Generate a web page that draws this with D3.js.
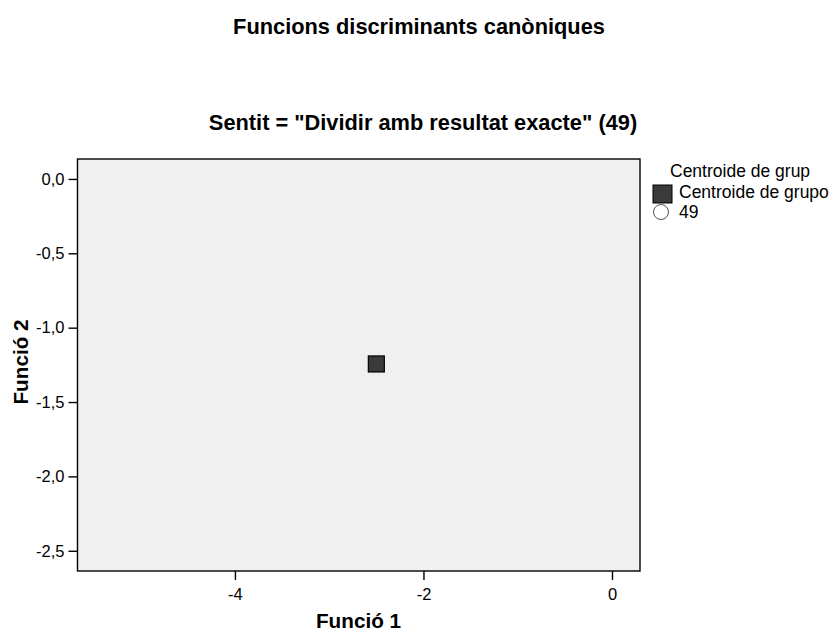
<!DOCTYPE html>
<html>
<head>
<meta charset="utf-8">
<script src="https://cdn.jsdelivr.net/npm/d3@7"></script>
<style>
  body { margin: 0; background: #fff; }
  svg text { font-family: "Liberation Sans", Arial, sans-serif; fill: #000; }
</style>
</head>
<body>
<svg id="chart"></svg>
<script>
// chart data
var chartTitle = "Funcions discriminants canòniques";
var panelTitle = 'Sentit = "Dividir amb resultat exacte" (49)';
var xLabel = "Funció 1";
var yLabel = "Funció 2";
var xTicks = [-4, -2, 0];
var yTicks = [0, -0.5, -1, -1.5, -2, -2.5];
var centroids = [{ name: "Centroide de grupo", f1: -2.50, f2: -1.244 }];
var cases = []; // 49 group, no individual cases drawn
var legendTitle = "Centroide de grup";
var legendItems = ["Centroide de grupo", "49"];

var width = 839, height = 632;
var plot = { left: 77.5, right: 640, top: 159, bottom: 571 };

var svg = d3.select("#chart")
    .attr("width", width)
    .attr("height", height);

var x = d3.scaleLinear()
    .domain([-5.67, 0.297])
    .range([plot.left, plot.right]);

var y = d3.scaleLinear()
    .domain([-2.636, 0.134])
    .range([plot.bottom, plot.top]);

var fmtComma = function(d) { return d3.format(".1f")(d).replace(".", ",").replace("−", "-"); };

// plot background
svg.append("rect")
    .attr("x", plot.left)
    .attr("y", plot.top)
    .attr("width", plot.right - plot.left)
    .attr("height", plot.bottom - plot.top)
    .attr("fill", "#f0f0f0")
    .attr("stroke", "#000")
    .attr("stroke-width", 1.4);

// axes
var xAxis = svg.append("g")
    .attr("transform", "translate(0," + plot.bottom + ")")
    .call(d3.axisBottom(x).tickValues(xTicks).tickSize(9).tickPadding(8)
        .tickFormat(function(d) { return d3.format("d")(d).replace("−", "-"); }));

var yAxis = svg.append("g")
    .attr("transform", "translate(" + plot.left + ",0)")
    .call(d3.axisLeft(y).tickValues(yTicks).tickSize(9).tickPadding(4).tickFormat(fmtComma));

[xAxis, yAxis].forEach(function(a) {
    a.select(".domain").remove();
    a.selectAll(".tick line").attr("stroke", "#000").attr("stroke-width", 1.4);
    a.selectAll(".tick text").attr("font-size", 16.5).attr("fill", "#000");
});

// cases (none for this panel)
svg.selectAll(".case")
    .data(cases)
    .enter()
    .append("circle")
    .attr("class", "case")
    .attr("cx", function(d) { return x(d.f1); })
    .attr("cy", function(d) { return y(d.f2); })
    .attr("r", 7)
    .attr("fill", "none")
    .attr("stroke", "#000");

// group centroid
var sq = 16;
svg.selectAll(".centroid")
    .data(centroids)
    .enter()
    .append("rect")
    .attr("class", "centroid")
    .attr("x", function(d) { return x(d.f1) - sq / 2; })
    .attr("y", function(d) { return y(d.f2) - sq / 2; })
    .attr("width", sq)
    .attr("height", sq)
    .attr("fill", "#3a3a3a")
    .attr("stroke", "#000")
    .attr("stroke-width", 1.2);

// titles
svg.append("text")
    .attr("x", 419)
    .attr("y", 34)
    .attr("text-anchor", "middle")
    .attr("font-size", 21.8)
    .attr("font-weight", "bold")
    .text(chartTitle);

svg.append("text")
    .attr("x", 423)
    .attr("y", 130)
    .attr("text-anchor", "middle")
    .attr("font-size", 21.8)
    .attr("font-weight", "bold")
    .text(panelTitle);

svg.append("text")
    .attr("x", 358.5)
    .attr("y", 628)
    .attr("text-anchor", "middle")
    .attr("font-size", 20.7)
    .attr("font-weight", "bold")
    .text(xLabel);

svg.append("text")
    .attr("transform", "translate(28," + 362 + ") rotate(-90)")
    .attr("text-anchor", "middle")
    .attr("font-size", 20.7)
    .attr("font-weight", "bold")
    .text(yLabel);

// legend
var legend = svg.append("g").attr("transform", "translate(652,0)");

legend.append("text")
    .attr("x", 18)
    .attr("y", 177)
    .attr("font-size", 17.5)
    .text(legendTitle);

legend.append("rect")
    .attr("x", 1)
    .attr("y", 185)
    .attr("width", 19)
    .attr("height", 18)
    .attr("fill", "#3a3a3a")
    .attr("stroke", "#000")
    .attr("stroke-width", 1);

legend.append("circle")
    .attr("cx", 9)
    .attr("cy", 212)
    .attr("r", 7.5)
    .attr("fill", "#fff")
    .attr("stroke", "#555")
    .attr("stroke-width", 1);

legend.selectAll(".legend-label")
    .data(legendItems)
    .enter()
    .append("text")
    .attr("class", "legend-label")
    .attr("x", 27)
    .attr("y", function(d, i) { return 198 + i * 19.5; })
    .attr("font-size", 17.5)
    .text(function(d) { return d; });
</script>
</body>
</html>
